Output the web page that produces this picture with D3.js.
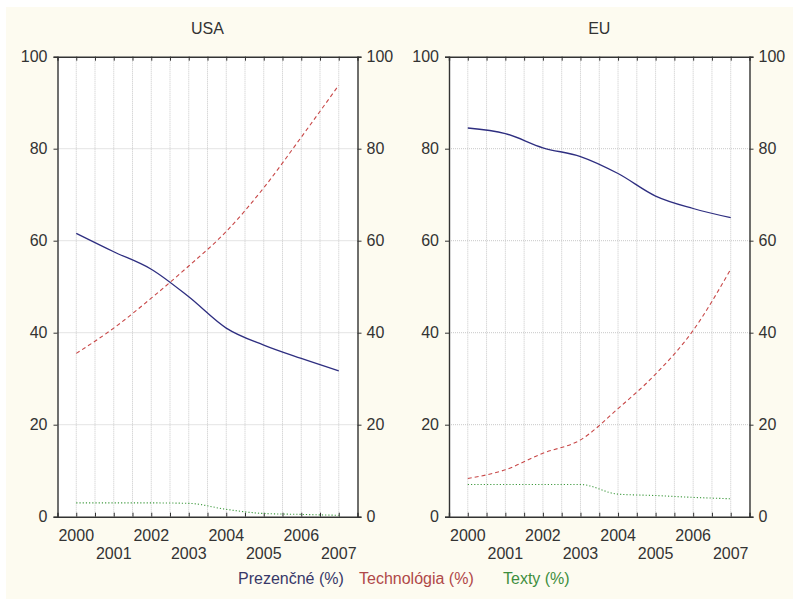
<!DOCTYPE html>
<html lang="sk">
<head>
<meta charset="UTF-8">
<script src="https://d3js.org/d3.v7.min.js"></script>
<title>USA / EU</title>
<style>
  body { margin: 0; background: #fff; }
  svg text { font-family: "Liberation Sans", Arial, sans-serif; font-size: 16px; fill: #333; }
</style>
</head>
<body>
<svg id="chart" width="793" height="599"></svg>
<script>
var years = [2000, 2001, 2002, 2003, 2004, 2005, 2006, 2007];
var yTicks = [0, 20, 40, 60, 80, 100];

// USA
var usaPrezencne = [61.6, 57.6, 53.8, 47.8, 41.0, 37.3, 34.4, 31.7];
var usaTechnologia = [35.5, 41.0, 47.5, 54.5, 62.0, 71.5, 82.5, 93.8];
var usaTexty = [3.0, 3.0, 3.0, 2.9, 1.6, 0.7, 0.5, 0.3];

// EU
var euPrezencne = [84.5, 83.3, 80.2, 78.3, 74.6, 69.7, 67.0, 65.0];
var euTechnologia = [8.3, 10.2, 13.8, 16.7, 23.5, 31.0, 40.5, 53.8];
var euTexty = [7.0, 7.0, 7.0, 7.0, 4.9, 4.6, 4.2, 3.9];

var seriesNames = ["Prezenčné (%)", "Technológia (%)", "Texty (%)"];
var seriesColors = ["#2e2e80", "#c84848", "#3f9a3f"];
var seriesDash = [null, "4,3", "1.2,2"];
var legendColors = ["#383868", "#b04848", "#3e8e3e"];

var panels = [
  { title: "USA", left: 57.5, right: 357.5, data: [usaPrezencne, usaTechnologia, usaTexty] },
  { title: "EU", left: 449, right: 749.5, data: [euPrezencne, euTechnologia, euTexty] }
];

var svg = d3.select("#chart");
svg.append("rect").attr("x", 6).attr("y", 7).attr("width", 787).attr("height", 592).attr("fill", "#fdfbf0");

var plotTop = 56.7, plotBottom = 516.7;
var y = d3.scaleLinear().domain([0, 100]).range([plotBottom, plotTop]);
var halfYears = d3.range(2000, 2007.01, 0.5);

panels.forEach(function(p) {
  var x = d3.scaleLinear().domain([1999.5, 2007.5]).range([p.left, p.right]);
  var g = svg.append("g");

  g.append("rect").attr("x", p.left).attr("y", plotTop)
    .attr("width", p.right - p.left).attr("height", plotBottom - plotTop).attr("fill", "#fff");

  // grid
  g.append("g").selectAll("line").data(halfYears).join("line")
    .attr("x1", function(d) { return x(d); }).attr("x2", function(d) { return x(d); })
    .attr("y1", plotTop).attr("y2", plotBottom)
    .attr("stroke", "#c8c8c8").attr("stroke-width", 1).attr("stroke-dasharray", "1,1");
  g.append("g").selectAll("line").data(yTicks.slice(1, -1)).join("line")
    .attr("x1", p.left).attr("x2", p.right)
    .attr("y1", function(d) { return y(d); }).attr("y2", function(d) { return y(d); })
    .attr("stroke", "#c8c8c8").attr("stroke-width", 1).attr("stroke-dasharray", "1,1");

  // axes
  var left = g.append("g").attr("transform", "translate(" + p.left + ",0)")
    .call(d3.axisLeft(y).tickValues(yTicks).tickSize(4).tickPadding(6));
  var right = g.append("g").attr("transform", "translate(" + p.right + ",0)")
    .call(d3.axisRight(y).tickValues(yTicks).tickSize(4).tickPadding(5));
  var bot = g.append("g").attr("transform", "translate(0," + plotBottom + ")")
    .call(d3.axisBottom(x).tickValues(halfYears).tickSize(-4).tickFormat(""));
  var topAx = g.append("g").attr("transform", "translate(0," + plotTop + ")")
    .call(d3.axisTop(x).tickValues(halfYears).tickSize(-4).tickFormat(""));
  [left, right, bot, topAx].forEach(function(a) {
    a.select(".domain").attr("stroke", "#333").attr("stroke-width", 1.4);
    a.selectAll(".tick line").attr("stroke", "#333");
    a.selectAll("text").style("font-size", "16px").attr("fill", "#333");
  });

  // year labels in two rows
  g.append("g").selectAll("text").data(years).join("text")
    .attr("x", function(d) { return x(d); })
    .attr("y", function(d) { return d % 2 === 0 ? 541 : 559; })
    .attr("text-anchor", "middle")
    .text(function(d) { return d; });

  // title
  g.append("text").attr("x", (p.left + p.right) / 2).attr("y", 34)
    .attr("text-anchor", "middle").text(p.title);

  // series
  var line = d3.line()
    .x(function(d, i) { return x(years[i]); })
    .y(function(d) { return y(d); })
    .curve(d3.curveMonotoneX);
  p.data.forEach(function(vals, k) {
    g.append("path").datum(vals).attr("d", line)
      .attr("fill", "none").attr("stroke", seriesColors[k])
      .attr("stroke-width", k === 0 ? 1.3 : 1.1)
      .attr("stroke-dasharray", seriesDash[k]);
  });
});

// legend
var legendX = [238, 359, 503];
svg.append("g").selectAll("text").data(seriesNames).join("text")
  .attr("x", function(d, i) { return legendX[i]; })
  .attr("y", 584)
  .style("fill", function(d, i) { return legendColors[i]; })
  .text(function(d) { return d; });
</script>
</body>
</html>
